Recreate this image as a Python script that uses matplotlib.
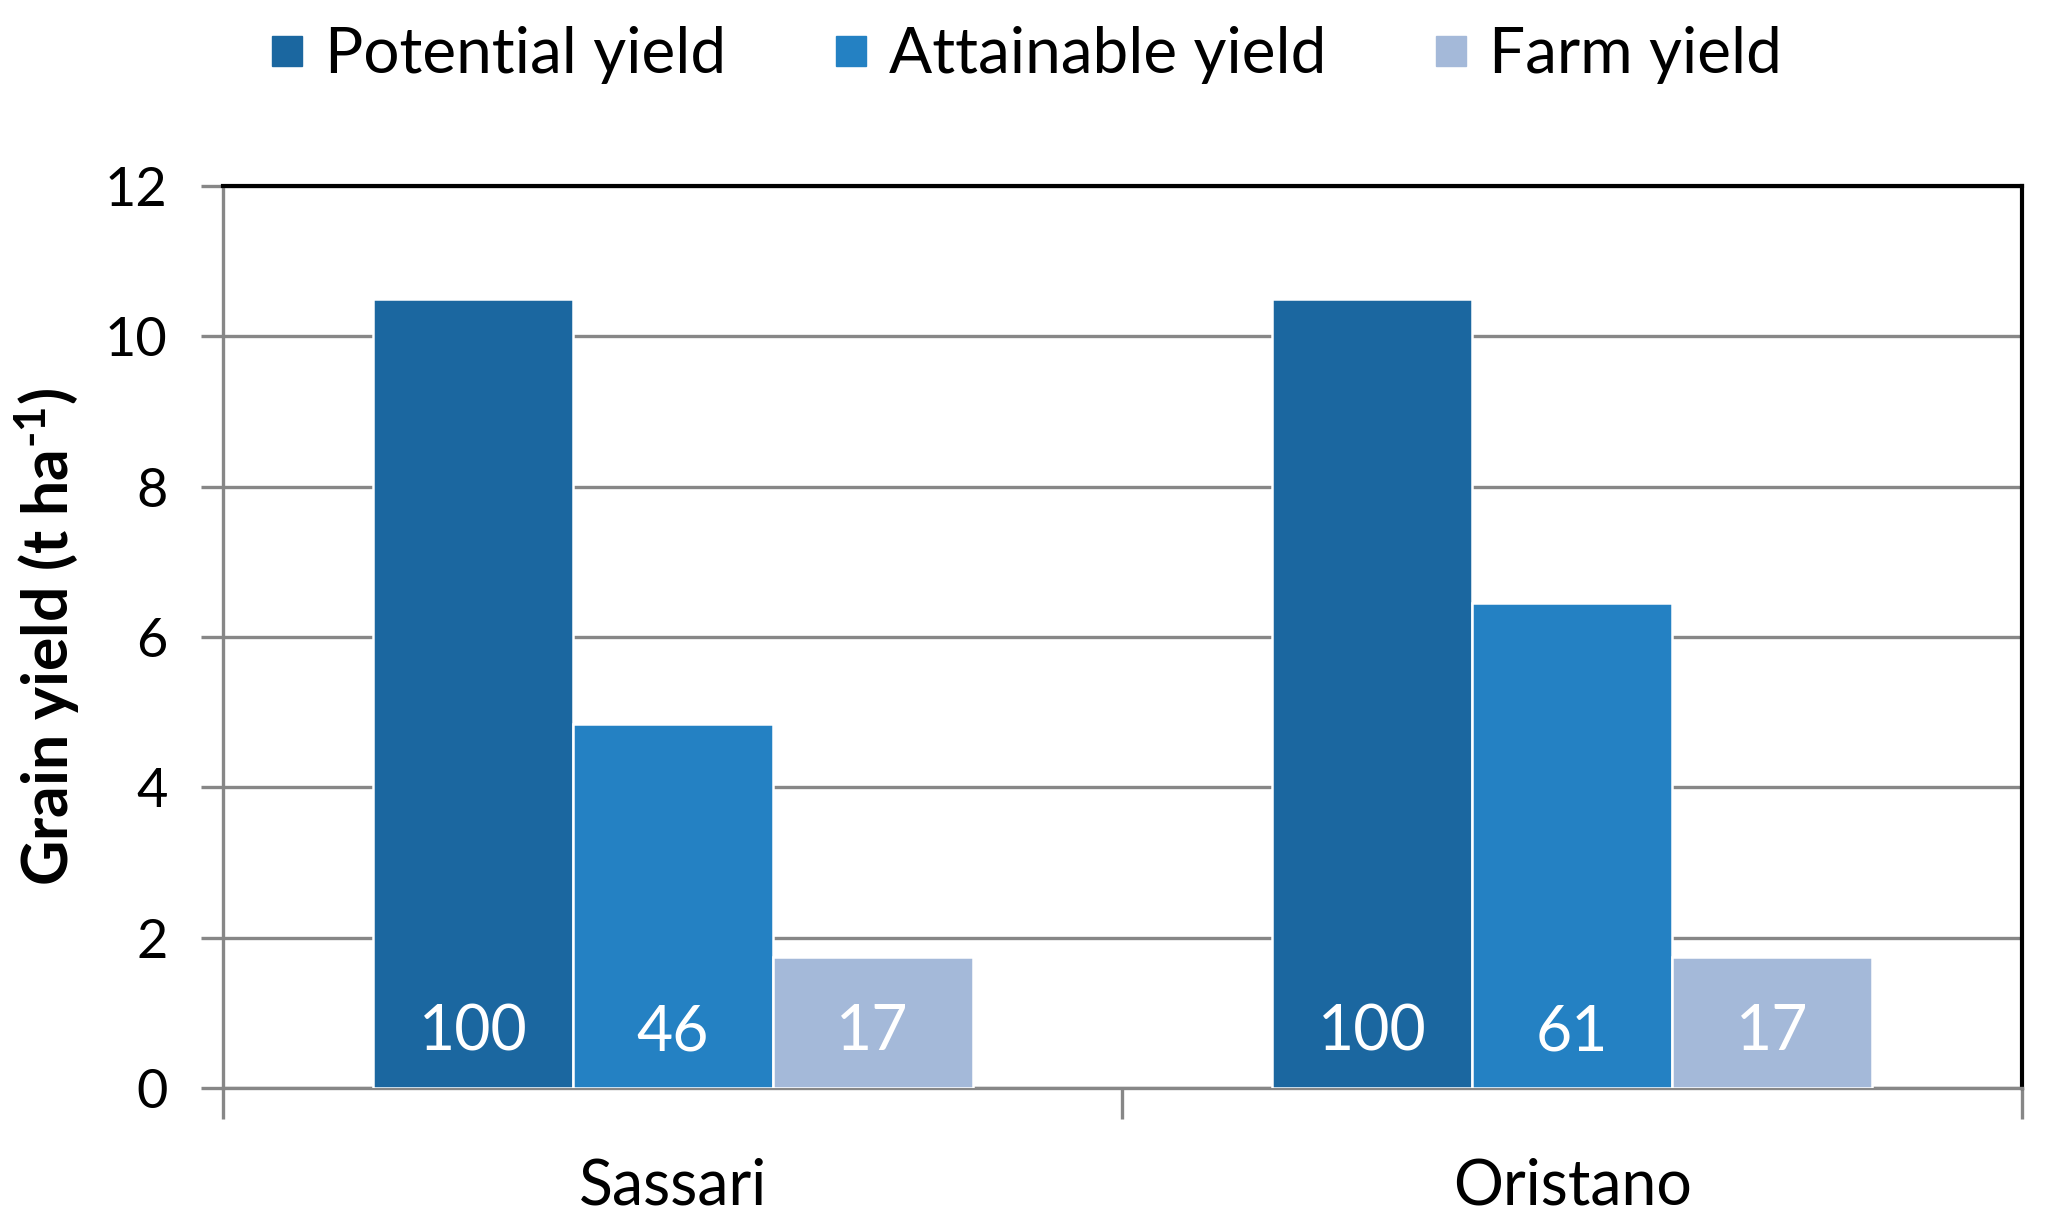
import matplotlib
matplotlib.use("Agg")
import matplotlib.pyplot as plt
import numpy as np
from matplotlib.lines import Line2D

plt.rcParams['font.family'] = ['Lato', 'DejaVu Sans']
plt.rcParams['mathtext.fontset'] = 'custom'
plt.rcParams['mathtext.rm'] = 'Lato'
plt.rcParams['mathtext.bf'] = 'Lato:bold'

# ---- data ----
sites = ["Sassari", "Oristano"]
series_names = ["Potential yield", "Attainable yield", "Farm yield"]
potential = [10.5, 10.5]
attainable = [4.85, 6.45]
farm = [1.75, 1.75]
pct_potential = [100, 100]
pct_attainable = [46, 61]
pct_farm = [17, 17]
yticks = [0, 2, 4, 6, 8, 10, 12]

colors = ["#1B67A0", "#2481C3", "#A4B9D9"]

fig = plt.figure(figsize=(20.59, 12.30), dpi=100)
ax = fig.add_axes([0.1083, 0.1154, 0.8737, 0.7333])

n = len(series_names)
bw = 1 / (n + 1.5)
x = np.arange(len(sites)) + 0.5
values = [potential, attainable, farm]
pcts = [pct_potential, pct_attainable, pct_farm]

for i, (vals, pc) in enumerate(zip(values, pcts)):
    xs = x + (i - 1) * bw
    ax.bar(xs, vals, width=bw, color=colors[i], edgecolor="white",
           linewidth=1.8, zorder=3)
    for xx, p in zip(xs, pc):
        ax.text(xx, 0.74, str(p), ha="center", va="center", color="white",
                fontsize=45, zorder=4)

ax.set_xlim(0, len(sites))
ax.set_ylim(0, 12)
ax.set_yticks(yticks)
ax.set_yticklabels([str(t) for t in yticks], fontsize=39)
ax.yaxis.grid(True, color="#878787", linewidth=2.4, zorder=0)
ax.set_axisbelow(True)

# category boundary ticks
ax.set_xticks(np.arange(len(sites) + 1))
ax.set_xticklabels([])
ax.set_xticks(x, minor=True)
ax.set_xticklabels(sites, minor=True, fontsize=45)
ax.tick_params(axis="x", which="minor", length=0, pad=50)
ax.tick_params(axis="x", which="major", length=22, width=2.4, color="#878787")
ax.tick_params(axis="y", length=16, width=2.4, color="#878787", pad=24)

for s in ["left", "bottom"]:
    ax.spines[s].set_color("#878787")
    ax.spines[s].set_linewidth(2.4)
for s in ["top", "right"]:
    ax.spines[s].set_color("black")
    ax.spines[s].set_linewidth(3.0)

ax.set_ylabel("Grain yield (t ha$\\mathbf{^{\u2010 1}}$)", fontsize=45,
              fontweight="bold", labelpad=16)

handles = [Line2D([0], [0], marker="s", linestyle="none", markersize=21,
                  markerfacecolor=c, markeredgecolor=c) for c in colors]
fig.legend(handles, series_names, loc="center", bbox_to_anchor=(0.497, 0.955),
           ncol=3, frameon=False, fontsize=46, handletextpad=0.25,
           columnspacing=1.6, handlelength=0.7)

fig.savefig("out.png", dpi=100, facecolor="white")
